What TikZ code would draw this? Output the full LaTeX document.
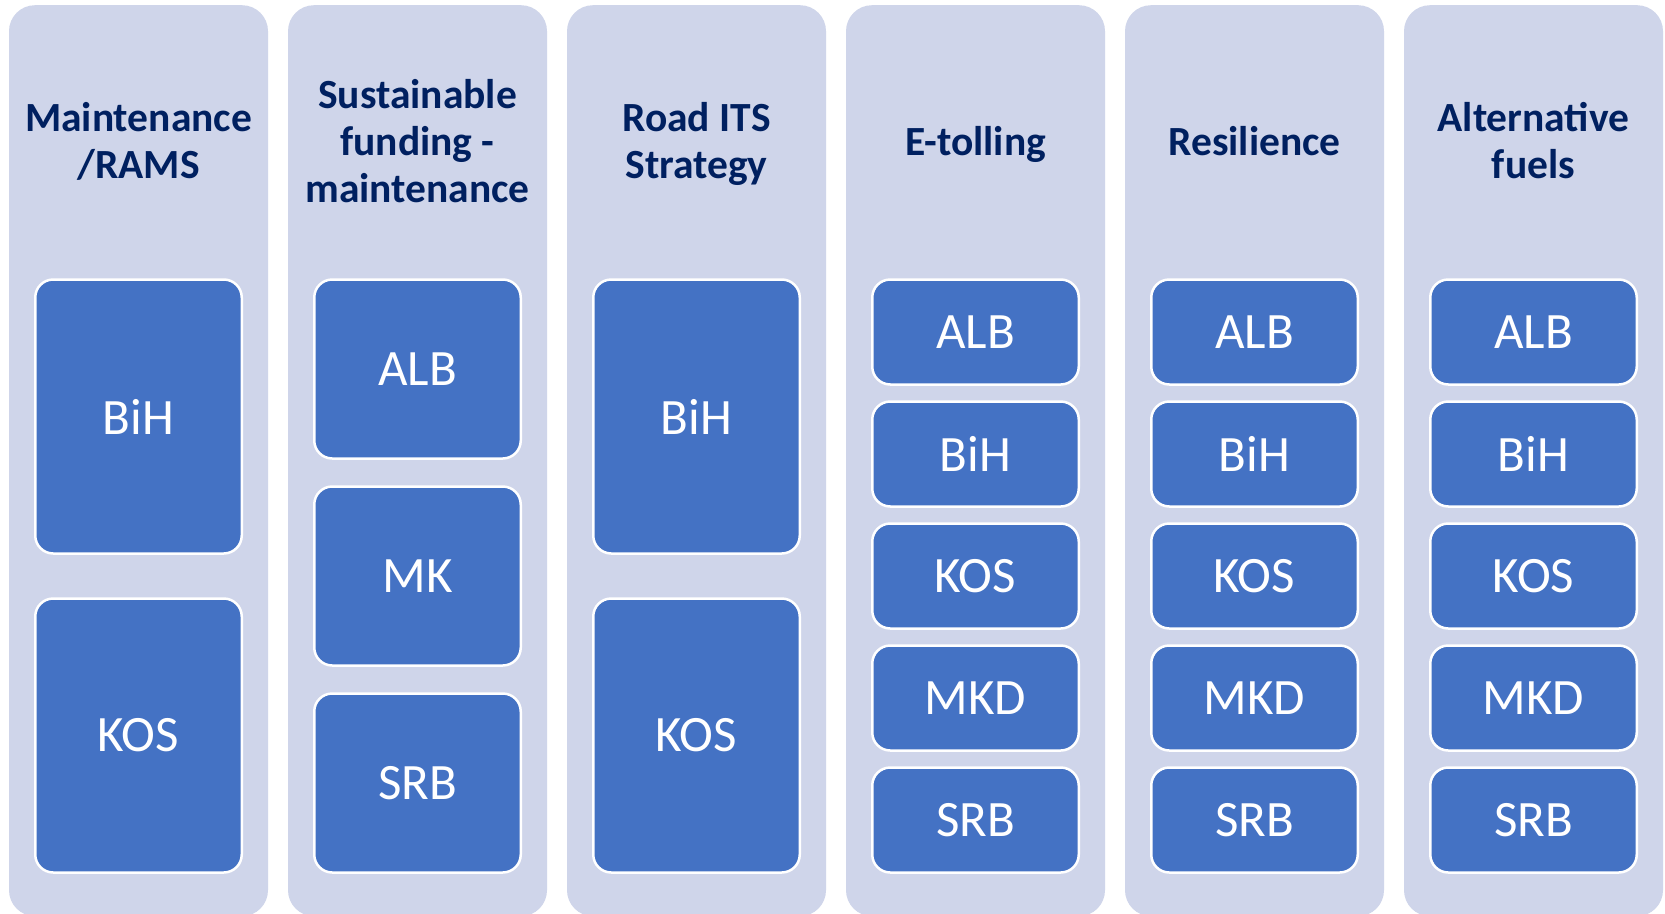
\documentclass[tikz,border=0pt]{standalone}
\usepackage{fontspec}
\setmainfont{Carlito}
\definecolor{colfill}{HTML}{CFD5EA}
\definecolor{boxfill}{HTML}{4472C4}
\definecolor{titlecol}{HTML}{002060}
\begin{document}
\begin{tikzpicture}[x=1pt,y=-1pt,
  colbox/.style={draw=none, fill=colfill, rounded corners=26pt, minimum width=259pt,
    minimum height=911pt, inner sep=0pt, anchor=north},
  titletext/.style={text=titlecol, align=center, inner sep=0pt,
    font=\bfseries\fontsize{41.5}{47}\selectfont},
  cbox/.style={draw=white, line width=2.5pt, fill=boxfill, rounded corners=18pt,
    minimum width=206.5pt, inner sep=0pt, text=white,
    font=\fontsize{51}{60}\selectfont},
  big/.style={cbox, minimum height=274pt},
  mid/.style={cbox, minimum height=179pt},
  small/.style={cbox, minimum height=105pt}
]
\useasboundingbox[fill=white] (0,0) rectangle (1665,913);
\begin{scope}
\clip (0,0) rectangle (1665,913);
% columns
\node[colbox] (col1) at (138.5,5) {};
\node[colbox] (col2) at (417.5,5) {};
\node[colbox] (col3) at (696.5,5) {};
\node[colbox] (col4) at (975.5,5) {};
\node[colbox] (col5) at (1254.5,5) {};
\node[colbox] (col6) at (1533.5,5) {};
\end{scope}
% titles
\node[titletext] (t1) at (138.5,146) {Maintenance\strut\\/RAMS\strut};
\node[titletext] (t2) at (417.5,146) {Sustainable\strut\\funding -\strut\\maintenance\strut};
\node[titletext] (t3) at (696.5,146) {Road ITS\strut\\Strategy\strut};
\node[titletext] (t4) at (975.5,146) {E-tolling\strut};
\node[titletext] (t5) at (1254.5,146) {Resilience\strut};
\node[titletext] (t6) at (1533.5,146) {Alternative\strut\\fuels\strut};
% column 1
\node[big] (b11) at (138.5,416.5) {BiH};
\node[big] (b12) at (138.5,735.5) {KOS};
% column 2
\node[mid] (b21) at (417.5,369) {ALB};
\node[mid] (b22) at (417.5,576) {MK};
\node[mid] (b23) at (417.5,783) {SRB};
% column 3
\node[big] (b31) at (696.5,416.5) {BiH};
\node[big] (b32) at (696.5,735.5) {KOS};
% column 4
\node[small] (b41) at (975.5,332) {ALB};
\node[small] (b42) at (975.5,454) {BiH};
\node[small] (b43) at (975.5,576) {KOS};
\node[small] (b44) at (975.5,698) {MKD};
\node[small] (b45) at (975.5,820) {SRB};
% column 5
\node[small] (b51) at (1254.5,332) {ALB};
\node[small] (b52) at (1254.5,454) {BiH};
\node[small] (b53) at (1254.5,576) {KOS};
\node[small] (b54) at (1254.5,698) {MKD};
\node[small] (b55) at (1254.5,820) {SRB};
% column 6
\node[small] (b61) at (1533.5,332) {ALB};
\node[small] (b62) at (1533.5,454) {BiH};
\node[small] (b63) at (1533.5,576) {KOS};
\node[small] (b64) at (1533.5,698) {MKD};
\node[small] (b65) at (1533.5,820) {SRB};
\end{tikzpicture}
\end{document}
